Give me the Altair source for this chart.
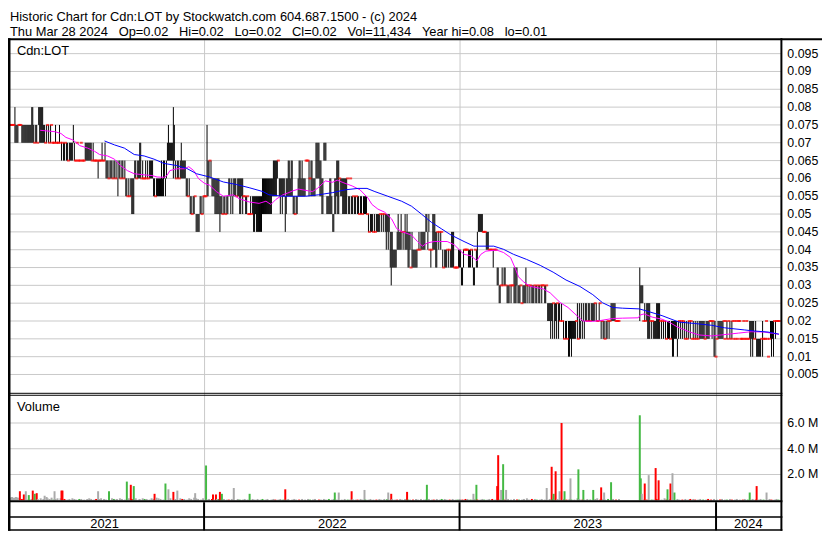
import altair as alt
import pandas as pd

# ---------------- text ----------------
TITLE_LINE_1 = "Historic Chart for Cdn:LOT by Stockwatch.com 604.687.1500 - (c) 2024"
GAP = "\u00a0 \u00a0"
TITLE_LINE_2 = GAP.join(["Thu Mar 28 2024", "Op=0.02", "Hi=0.02", "Lo=0.02", "Cl=0.02",
                         "Vol=11,434", "Year hi=0.08", "lo=0.01"])
SYMBOL = "Cdn:LOT"
VOLUME_TITLE = "Volume"

YEARS = ["2021", "2022", "2023", "2024"]
YEAR_LABEL_POS = [97, 327, 585, 747]      # trading-day position of each year label
YEAR_START_POS = [198, 456, 715]          # trading-day position of Jan 1

PRICE_TICKS = [0.005, 0.01, 0.015, 0.02, 0.025, 0.03, 0.035, 0.04, 0.045, 0.05,
               0.055, 0.06, 0.065, 0.07, 0.075, 0.08, 0.085, 0.09, 0.095]
PRICE_TICK_LABELS = ["0.005", "0.01", "0.015", "0.02", "0.025", "0.03", "0.035", "0.04",
                     "0.045", "0.05", "0.055", "0.06", "0.065", "0.07", "0.075", "0.08",
                     "0.085", "0.09", "0.095"]
VOLUME_TICKS = [2, 4, 6]                  # millions
VOLUME_TICK_LABELS = ["2.0 M", "4.0 M", "6.0 M"]

# ---------------- daily price ranges ----------------
# one token per trading day: low char + high char, in half-cent steps
# (2=0.01, 3=0.015 ... 9=0.045, a=0.05, b=0.055, c=0.06, d=0.065, e=0.07, f=0.075, g=0.08)
# "x*n" repeats a token, "--" = no trade
PRICE_2021 = ("ff*6 eg ef*3 ff*3 ef*10 eg*2 ef ee ef ef ee fg eg*4 ef ef ee ef ff ef ee ef ff "
              "ee*3 ef ee*3 ef ee de ee de de ee de de dd de de*3 ef de dd dd ee dd*3 ee dd*3 "
              "de*7 dd de dd*4 cd dd*3 de dd dd de cd*3 cc cd*3 cc cd cd cc cd bc cd cd cc cd cd "
              "cc cd bc bc bb bc bb bc ac*3 cd cd cc cd cd ce ce cc cd cc cc cd cc cd cc cd cd*3 "
              "bc bc bb bc bc*4 bd bc bd cd bc cd de df de*4 cg df cd cc cd cd cc cd ce cd cd*3 "
              "bc bc bb bc ab ab aa ab ab bb 9a*4 ab ab aa ab bb")
PRICE_2022 = ("bb bb bf bd cd dd cd bc*3 ac*5 9b ab ab aa ab ab aa ab ab bc bc ab bc ab bc "
              "bc bc bb bc bc ac ac bc ac bb bb ab ab bb aa aa ab aa ab 9b 9b ab 9b 9b*5 ac*10 "
              "bc bd*4 cd dd bc ac bc ac bc bc 9b ac bc bd bd bc bd bd ab ab aa ab ab bc bd bd "
              "bc bd bc*3 dd*3 bd cc bd bd bc*3 ce*3 ce bd bd ac ac de*3 ab ab ab ac ac ab 9a "
              "9a ac ac bd ad ad cc bc bc ac*5 cc ab ab cc ab ab bb ab ab bb ab ab aa ab ab aa "
              "ab ab ab ab aa 9a 99 9a 9a 9a 99 9a 99 9a 9a*3 aa 9a aa 9a aa 9a 8a 9a 8a 9a 79 "
              "69 79 78*4 89 8a 89 89 8a 99 89 99 8a 89 8a 79 79 89 77 79 78*5 88 89 88 89 "
              "89*4 9a 9a 89 9a 88 78 88 8a*3 79 79 99 89 99 89 99 78 77 78 78 78 88 78 88 78 "
              "79*3 77*4 78 78")
PRICE_2023 = ("78 67 67 78 88*4 78*3 88 78 67 67 88 78 79 9a*5 99*3 89*3 88*4 78 88*3 67 67 "
              "56 56 66 67 66 67 67 66 56 56 56 66 56 66 66 57*3 67 56 56 56 66 55 56 56 56 57 "
              "66 56 66 56 66 56 56 56 66 56 56 66 56 56 66 56 66 66 56 56 66 45 45 45 35 45 35 "
              "55 35 45 35 55 35 45 44 45 44 34 33 34 34 33 24 24 34 24 34*4 44 35 33 35 34 45 "
              "34 45 34 45 45 44 45 45 44 45 45 45 45 55 45 44 44 45 55 34 44 34 34 33 34 34 44 "
              "34 44 45*5 44*4 --*20 47 56*3 44 45 44 45 35*3 44 34 44 34 34 34 35*4 44 34 44 "
              "34 44 34 33 34 34 34 33 34 24 24 34 34 34 23 34 44 34 44 34 44 34 33 34 33 34 44 "
              "34 44 33 34 33 34 33 34 33 34 34*5 33 34*4 44 44 34 44 24 24 22")
PRICE_2024 = ("33 34 34 34 34 34 34 44 33 44 34 33 44 34 33 34 44 33 44 33 44 33 44 44 33 33 "
              "33 44 33 33 44 33 33 34 24 34 24 34 33 34 23*5 33 24 33 33 33 44 33 22 33 34 24 "
              "34 24 44 34 44*4")

# ---------------- daily volume ----------------
# small bars, one char per day, steps of 0.05 M:
# grey a-f, green g-l, red r-w (1..6 steps), "." = none
VOL_2021 = ("eddedcdedd.c.s.b.c.a.g.bc.a..b..c.ab..ec.b.d.g.b.c"
            "..c.b.s..a.b..c.b.a..h.b..a..b.c.b..a.s..b.c..b.a."
            ".b..c.ha.b..c.b..a.b.c..s.b.c..ab..c.h.b..a.c.b..d"
            ".c.b..a.c..b.c..d.b.a..c.s.b..a.c.b..d.c.b..a.c.")
VOL_2022 = ("..a.b..s.a..b.h..a.b..a.r..b.a...b.g..a.b..a.r..b."
            "a..b..a.h..a.b...a.b.r..a.b..g..a.b...a.b.a..r..b."
            ".a..b.g..a.b...r.a..b.a..h..a.b..a.r..a..b..g.a..b"
            "..a.r..b.a..g..a.b..a..r..b.a..b..h..a.b..a.r..b.a"
            "..b..g.a..r..b.a..b..a.g..b..a.r..b..a.h..b.a..r.."
            "b..a.g.b")
VOL_2023 = ("a.r..s.b..g.a.b..r..a.b.g..a.b..s..a.b..g.a..r..b."
            ".a..b..r.g..a.b..c.a..s..b.g..a.b..a.r..b..h.a..b."
            "..a.b..r..b.g..a..c.b..r.a..b..g..a.b.c..r..b.a..h"
            "..a.b..r..b"
            "...................."
            ".b..a..r.b..g.a..s.b..a..c.r..b..a.g..b.a..r..b..a.s..b.r..a.b..g..a.s..r..b..a")
VOL_2024 = "a..r.b..a.g..b.r..a.b..a..r.b..g..a.b..r..a.b..g..a..b.r..a.b.g."

# larger volume bars: (day, millions, colour g/r/k)
VOL_BIG = [
    (11, .7, "r"), (15, .45, "r"), (17, .7, "k"), (20, .4, "g"), (24, .75, "r"), (26, .5, "g"),
    (28, .55, "r"), (36, .35, "k"), (46, .7, "k"), (53, .75, "r"), (54, .75, "r"), (90, .7, "k"),
    (101, .7, "g"), (119, 1.45, "g"), (123, 1.2, "r"), (126, 1.1, "g"), (147, .5, "r"),
    (158, 1.3, "g"), (161, .85, "k"), (166, .65, "r"), (170, .75, "k"), (188, .55, "k"),
    (199, 2.7, "g"), (206, .45, "r"), (209, .45, "r"), (213, .65, "r"), (215, .5, "g"),
    (227, .95, "k"), (243, .5, "g"), (279, .85, "r"), (329, .6, "g"), (333, .6, "k"),
    (346, .7, "r"), (359, .8, "k"), (383, .6, "k"), (386, .5, "r"), (402, .65, "r"),
    (422, 1.2, "g"), (469, .5, "k"), (472, 1.2, "g"), (493, 1.1, "r"), (494, 3.5, "r"),
    (497, .8, "k"), (499, 2.8, "g"), (502, .8, "k"), (543, .95, "k"), (548, 2.6, "r"),
    (550, .5, "g"), (552, 2.25, "r"), (556, .7, "k"), (558, 6.0, "r"), (561, .7, "g"),
    (567, 1.7, "k"), (575, 2.4, "g"), (580, .8, "g"), (590, .8, "g"), (598, 1.0, "r"),
    (601, .6, "k"), (608, 1.4, "g"), (637, 6.6, "g"), (638, 1.7, "g"), (639, .5, "k"),
    (642, 1.3, "r"), (646, 1.95, "k"), (653, 2.5, "r"), (656, 1.55, "r"), (665, .85, "g"),
    (668, 1.3, "r"), (670, 2.1, "k"), (672, .6, "g"), (748, .6, "g"), (755, 1.1, "r"),
    (765, .6, "k"),
]

# ---------------- moving averages (day, price) ----------------
MA_SHORT = [
    (32, .0735), (47, .0731), (53, .0726), (58, .0715), (65, .0708), (72, .0692), (80, .0685),
    (87, .0676), (92, .0667), (100, .0663), (107, .0654), (113, .0636), (120, .0622),
    (127, .0613), (137, .0610), (145, .0608), (150, .0604), (157, .0603), (160, .0608),
    (163, .0622), (170, .0627), (178, .0627), (182, .0633), (187, .0622), (192, .0599),
    (198, .0586), (203, .0581), (210, .0563), (217, .0550), (227, .0554), (233, .0543),
    (243, .0534), (253, .0530), (260, .0536), (265, .0527), (270, .0541), (277, .0554),
    (282, .0559), (287, .0565), (293, .0570), (303, .0565), (307, .0563), (312, .0572),
    (320, .0593), (327, .0589), (332, .0595), (340, .0586), (347, .0579), (355, .0568),
    (363, .0545), (367, .0527), (373, .0514), (380, .0505), (387, .0486), (392, .0459),
    (398, .0450), (407, .0441), (413, .0423), (418, .0410), (423, .0419), (430, .0423),
    (443, .0423), (450, .0414), (460, .0387), (467, .0383), (473, .0369), (477, .0387),
    (482, .0396), (493, .0399), (500, .0392), (507, .0378), (512, .0346), (515, .0324),
    (520, .0310), (527, .0297), (540, .0290), (547, .0279), (557, .0252), (565, .0238),
    (572, .0220), (580, .0200), (590, .0199), (597, .0201), (610, .0207), (620, .0208),
    (636, .0209), (638, .0217), (642, .0220), (650, .0211), (660, .0205), (667, .0197),
    (675, .0184), (687, .0170), (697, .0161), (710, .0158), (720, .0161), (737, .0166),
    (750, .0170), (763, .0169), (778, .0163),
]
MA_LONG = [
    (97, .0705), (107, .0694), (117, .0685), (127, .0667), (137, .0663), (147, .0654),
    (157, .0642), (170, .0636), (180, .0628), (190, .0613), (203, .0604), (217, .0590),
    (230, .0583), (243, .0574), (257, .0563), (263, .0554), (277, .0550), (300, .0550),
    (313, .0554), (327, .0560), (340, .0568), (353, .0572), (362, .0572), (370, .0563),
    (383, .0550), (397, .0536), (407, .0522), (417, .0500), (427, .0477), (437, .0459),
    (447, .0441), (460, .0423), (470, .0410), (490, .0410), (500, .0401), (510, .0387),
    (523, .0373), (537, .0356), (550, .0337), (563, .0315), (577, .0297), (590, .0274),
    (600, .0251), (610, .0238), (620, .0236), (637, .0234), (647, .0226), (660, .0215),
    (677, .0197), (693, .0193), (710, .0188), (723, .0181), (743, .0175), (753, .0172),
    (767, .0169), (778, .0163),
]

# ---------------- decode ----------------
STEP = "0123456789abcdefg"


def expand(s):
    out = []
    for tok in s.split():
        if "*" in tok:
            t, n = tok.split("*")
            out += [t] * int(n)
        else:
            out.append(tok)
    return out


VCODE = {}
for k, ch in enumerate("abcdef"):
    VCODE[ch] = ("k", (k + 1) * 0.05)
for k, ch in enumerate("ghijkl"):
    VCODE[ch] = ("g", (k + 1) * 0.05)
for k, ch in enumerate("rstuvw"):
    VCODE[ch] = ("r", (k + 1) * 0.05)

bars, flats, vols = [], [], []
day = 0
for p_str, v_str in [(PRICE_2021, VOL_2021), (PRICE_2022, VOL_2022),
                     (PRICE_2023, VOL_2023), (PRICE_2024, VOL_2024)]:
    toks = expand(p_str)
    vchars = (v_str + "." * len(toks))[:len(toks)]
    for tok, vc in zip(toks, vchars):
        if tok != "--":
            lo = STEP.index(tok[0]) * 0.005
            hi = STEP.index(tok[1]) * 0.005
            if hi > lo:
                bars.append({"i": day, "lo": lo, "hi": hi})
            else:
                flats.append({"i": day, "p": lo})
            if vc in VCODE:
                c, v = VCODE[vc]
                vols.append({"i": day, "v": v, "c": c})
        day += 1

big = {d: (v, c) for d, v, c in VOL_BIG}
vols = [r for r in vols if r["i"] not in big]
vols += [{"i": d, "v": v, "c": c} for d, (v, c) in big.items()]
vols.sort(key=lambda r: r["i"])

bars_df = pd.DataFrame(bars)
flats_df = pd.DataFrame(flats)
vol_df = pd.DataFrame(vols)
ma_s_df = pd.DataFrame(MA_SHORT, columns=["i", "v"])
ma_l_df = pd.DataFrame(MA_LONG, columns=["i", "v"])

# ---------------- layout ----------------
W, H = 781, 526
FONT = "Liberation Sans, Arial, sans-serif"
GRID = "#c8c8c8"
XS = alt.Scale(domain=[-0.5, 780.5], nice=False, zero=False)
PY = alt.Scale(domain=[0, 0.1], range=[385.5, 25.5], nice=False, zero=False)
VY = alt.Scale(domain=[0, 8], range=[494.5, 390.5], nice=False, zero=False)
ONE = pd.DataFrame({"_": [0]})


def xq():
    return alt.X("i:Q", scale=XS, axis=None)


def hline(y, x1, x2, w):
    return alt.Chart(ONE).mark_rule(color="black", strokeWidth=w).encode(
        x=alt.value(x1), x2=alt.value(x2), y=alt.value(y))


def vline(x, y1, y2, w):
    return alt.Chart(ONE).mark_rule(color="black", strokeWidth=w).encode(
        x=alt.value(x), y=alt.value(y1), y2=alt.value(y2))


def label(text, x, y, size=13):
    return alt.Chart(ONE).mark_text(align="left", baseline="alphabetic", font=FONT,
                                    fontSize=size, color="black").encode(
        x=alt.value(x), y=alt.value(y), text=alt.value(text))


price_grid = alt.Chart(pd.DataFrame({"v": PRICE_TICKS})).mark_rule(
    color=GRID, strokeWidth=1).encode(
    y=alt.Y("v:Q", scale=PY, axis=None), x=alt.value(0), x2=alt.value(W))
vol_grid = alt.Chart(pd.DataFrame({"v": VOLUME_TICKS})).mark_rule(
    color=GRID, strokeWidth=1).encode(
    y=alt.Y("v:Q", scale=VY, axis=None), x=alt.value(0), x2=alt.value(W))
year_grid = alt.Chart(pd.DataFrame({"i": YEAR_START_POS})).mark_rule(
    color=GRID, strokeWidth=1).encode(x=xq(), y=alt.value(30), y2=alt.value(494.5))
year_sep = alt.Chart(pd.DataFrame({"i": YEAR_START_POS})).mark_rule(
    color="black", strokeWidth=2, xOffset=-0.5).encode(
    x=xq(), y=alt.value(496.5), y2=alt.value(525))

vol_bars = alt.Chart(vol_df).mark_rule(strokeWidth=2, xOffset=0.5).encode(
    x=xq(),
    y=alt.Y("v:Q", scale=VY, axis=None),
    y2=alt.datum(0),
    color=alt.Color("c:N", scale=alt.Scale(domain=["g", "r", "k"],
                                           range=["#44b944", "#ff0000", "#aaaaaa"]),
                    legend=None),
)
price_bars = alt.Chart(bars_df).mark_rule(color="black", strokeWidth=1, xOffset=0.5).encode(
    x=xq(), y=alt.Y("lo:Q", scale=PY, axis=None), y2="hi:Q")
price_flats = alt.Chart(flats_df).mark_tick(
    color="#ff0000", orient="horizontal", size=3, thickness=2, xOffset=0.5).encode(
    x=xq(), y=alt.Y("p:Q", scale=PY, axis=None))
ma_short = alt.Chart(ma_s_df).mark_line(color="#ff00ff", strokeWidth=1).encode(
    x=xq(), y=alt.Y("v:Q", scale=PY, axis=None))
ma_long = alt.Chart(ma_l_df).mark_line(color="#0000ff", strokeWidth=1).encode(
    x=xq(), y=alt.Y("v:Q", scale=PY, axis=None))

price_labels = alt.Chart(pd.DataFrame({"v": PRICE_TICKS, "t": PRICE_TICK_LABELS})).mark_text(
    align="left", baseline="middle", font=FONT, fontSize=12.5, color="black").encode(
    x=alt.value(787), y=alt.Y("v:Q", scale=PY, axis=None), text="t:N")
vol_labels = alt.Chart(pd.DataFrame({"v": VOLUME_TICKS, "t": VOLUME_TICK_LABELS})).mark_text(
    align="left", baseline="middle", font=FONT, fontSize=12.5, color="black").encode(
    x=alt.value(787), y=alt.Y("v:Q", scale=VY, axis=None), text="t:N")
year_labels = alt.Chart(pd.DataFrame({"i": YEAR_LABEL_POS, "t": YEARS})).mark_text(
    align="center", baseline="alphabetic", font=FONT, fontSize=13, color="black").encode(
    x=xq(), y=alt.value(523), text="t:N")

layers = [
    price_grid, vol_grid, year_grid, year_sep,
    vol_bars, price_bars, price_flats, ma_short, ma_long,
    price_labels, vol_labels, year_labels,
    label(TITLE_LINE_1, 2, 11), label(TITLE_LINE_2, 2, 26),
    label(SYMBOL, 9, 44.5), label(VOLUME_TITLE, 9, 404.5),
    hline(29, 0, 822, 2),
    hline(386.5, 0, 782, 1), hline(388.5, 0, 782, 1),
    hline(495.5, 0, 782, 2), hline(511.5, 0, 782, 1.5), hline(524.5, 0, 782, 1.5),
    vline(1.25, 28, 525.25, 2.5), vline(781, 28, 525.25, 2),
]

chart = alt.layer(*layers).properties(
    width=W, height=H,
    padding={"left": 0, "top": 0, "right": 41, "bottom": 0},
    autosize=alt.AutoSizeParams(type="none"),
).resolve_scale(y="independent").configure_view(stroke=None)

chart.save("out.html", embed_options={"renderer": "svg", "actions": False})
